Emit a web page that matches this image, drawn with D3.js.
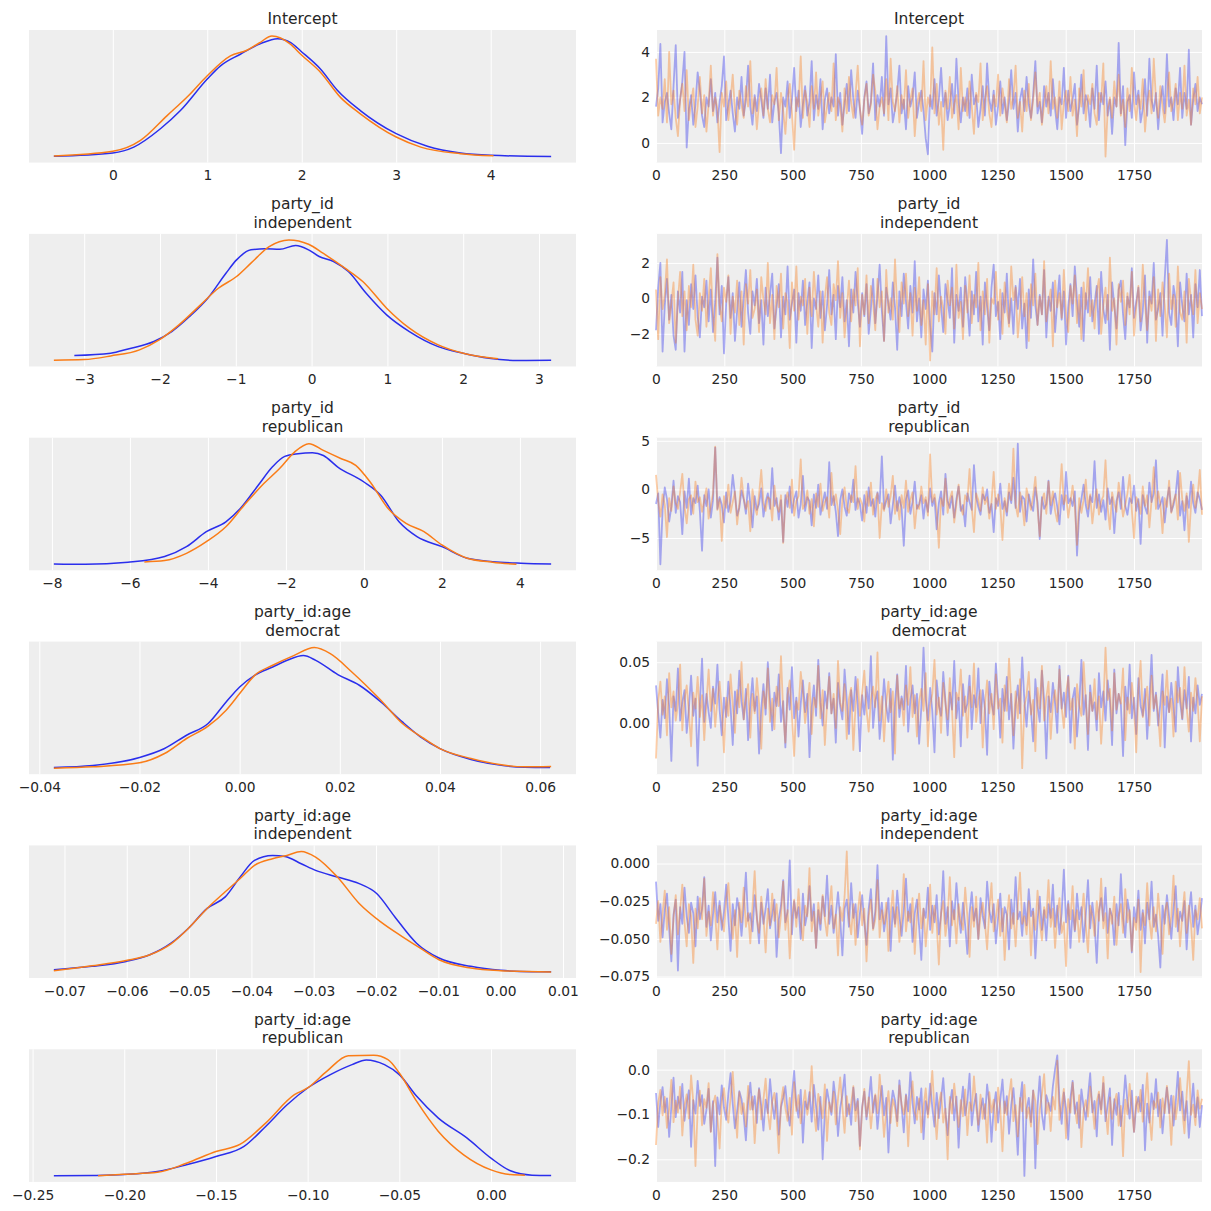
<!DOCTYPE html>
<html><head><meta charset="utf-8">
<script src="https://cdn.jsdelivr.net/npm/d3@7"></script>
<style>html,body{margin:0;padding:0;background:#fff}</style>
</head><body>
<svg id="c" width="1211" height="1211"></svg>
<script>
// ---------------- DATA ----------------
const titles = [["Intercept"],["party_id","independent"],["party_id","republican"],
  ["party_id:age","democrat"],["party_id:age","independent"],["party_id:age","republican"]];
const chainColors = ["#2a2eec","#fa7c17"];
const nDraws = 2000;

// KDE curves: [value, relative density] for chain 0 and chain 1
const kdeIntercept0 = [[-0.624,0.004],[0,0.032],[0.222,0.081],[0.504,0.234],[0.716,0.386],[1.0,0.649],[1.14,0.759],[1.35,0.856],[1.566,0.945],[1.743,0.986],[1.884,0.953],[1.989,0.883],[2.2,0.731],[2.374,0.558],[2.62,0.386],[3.0,0.193],[3.33,0.088],[3.68,0.032],[4.0,0.013],[4.64,0.002]];
const kdeIntercept1 = [[-0.624,0.007],[0,0.046],[0.293,0.137],[0.575,0.344],[0.8,0.51],[1.0,0.677],[1.245,0.842],[1.42,0.889],[1.55,0.95],[1.685,1.008],[1.88,0.94],[1.989,0.856],[2.2,0.704],[2.41,0.496],[2.62,0.359],[3.0,0.165],[3.26,0.081],[3.68,0.026],[4.03,0.008]];
const kdeIndep0 = [[-3.13,0.040],[-2.65,0.059],[-2.42,0.095],[-2.08,0.156],[-1.845,0.238],[-1.61,0.362],[-1.37,0.513],[-1.13,0.719],[-0.99,0.829],[-0.80,0.912],[-0.61,0.920],[-0.42,0.917],[-0.21,0.948],[-0.04,0.912],[0.10,0.857],[0.29,0.816],[0.485,0.733],[0.72,0.554],[0.99,0.376],[1.29,0.238],[1.67,0.114],[2.0,0.059],[2.34,0.018],[2.72,0.000],[3.16,0.002]];
const kdeIndep1 = [[-3.40,0.002],[-3.0,0.007],[-2.65,0.037],[-2.27,0.087],[-2.01,0.169],[-1.75,0.293],[-1.465,0.458],[-1.23,0.595],[-0.99,0.692],[-0.80,0.802],[-0.56,0.939],[-0.30,0.994],[-0.04,0.958],[0.15,0.884],[0.44,0.761],[0.675,0.651],[0.99,0.431],[1.29,0.266],[1.67,0.128],[2.0,0.059],[2.46,0.013]];
const kdeRepub0 = [[-7.95,0.007],[-7.14,0.004],[-6.05,0.021],[-5.11,0.068],[-4.55,0.150],[-4.04,0.274],[-3.54,0.356],[-3.17,0.466],[-2.71,0.659],[-2.35,0.810],[-2.03,0.898],[-1.69,0.920],[-1.32,0.928],[-1.04,0.906],[-0.67,0.810],[0,0.686],[0.43,0.576],[0.90,0.356],[1.36,0.233],[2.0,0.150],[2.65,0.054],[3.30,0.026],[4.03,0.013],[4.80,0.007]];
const kdeRepub1 = [[-5.63,0.024],[-5.11,0.035],[-4.55,0.095],[-4.04,0.191],[-3.54,0.315],[-3.07,0.494],[-2.61,0.659],[-2.15,0.802],[-1.78,0.934],[-1.41,1.003],[-1.04,0.948],[-0.58,0.879],[-0.21,0.824],[0.16,0.686],[0.62,0.466],[1.08,0.343],[1.54,0.274],[2.0,0.164],[2.65,0.054],[3.30,0.021],[3.91,0.004]];
const kdeAgeDem0 = [[-0.0371,0.013],[-0.0293,0.029],[-0.0200,0.095],[-0.0150,0.169],[-0.0106,0.279],[-0.0063,0.376],[-0.0027,0.554],[0,0.678],[0.0030,0.774],[0.0066,0.843],[0.0095,0.898],[0.0127,0.937],[0.0152,0.898],[0.0196,0.780],[0.0239,0.692],[0.0282,0.554],[0.0325,0.389],[0.0361,0.266],[0.0400,0.169],[0.0462,0.079],[0.0519,0.032],[0.0569,0.015],[0.0620,0.013]];
const kdeAgeDem1 = [[-0.0371,0.007],[-0.0293,0.018],[-0.0200,0.051],[-0.0150,0.128],[-0.0106,0.252],[-0.0063,0.354],[-0.0027,0.486],[0,0.623],[0.0030,0.774],[0.0066,0.857],[0.0109,0.939],[0.0149,1.003],[0.0181,0.953],[0.0224,0.802],[0.0282,0.568],[0.0325,0.376],[0.0368,0.252],[0.0400,0.169],[0.0462,0.087],[0.0519,0.037],[0.0569,0.018],[0.0622,0.021]];
const kdeAgeInd0 = [[-0.0717,0.026],[-0.0656,0.054],[-0.0601,0.095],[-0.0563,0.150],[-0.0529,0.246],[-0.0501,0.370],[-0.0471,0.535],[-0.0442,0.631],[-0.0418,0.796],[-0.0395,0.934],[-0.0366,0.975],[-0.0346,0.967],[-0.0320,0.906],[-0.0297,0.851],[-0.0262,0.796],[-0.0227,0.741],[-0.0199,0.659],[-0.0170,0.466],[-0.0135,0.246],[-0.0099,0.123],[-0.0048,0.054],[0,0.021],[0.0050,0.010],[0.0081,0.010]];
const kdeAgeInd1 = [[-0.0717,0.018],[-0.0656,0.059],[-0.0601,0.103],[-0.0563,0.150],[-0.0529,0.241],[-0.0501,0.370],[-0.0471,0.535],[-0.0442,0.673],[-0.0418,0.783],[-0.0395,0.893],[-0.0366,0.948],[-0.0343,0.975],[-0.0320,1.008],[-0.0297,0.961],[-0.0262,0.796],[-0.0227,0.576],[-0.0193,0.425],[-0.0158,0.301],[-0.0129,0.205],[-0.0099,0.109],[-0.0048,0.040],[0,0.018],[0.0081,0.007]];
const kdeAgeRep0 = [[-0.2384,0.002],[-0.2172,0.005],[-0.2000,0.013],[-0.1819,0.038],[-0.1661,0.094],[-0.1500,0.163],[-0.1347,0.246],[-0.1229,0.412],[-0.1112,0.592],[-0.1000,0.731],[-0.0876,0.842],[-0.0758,0.925],[-0.0680,0.964],[-0.0581,0.925],[-0.0500,0.842],[-0.0405,0.662],[-0.0287,0.481],[-0.0130,0.315],[0,0.149],[0.0106,0.044],[0.0224,0.008],[0.0328,0.005]];
const kdeAgeRep1 = [[-0.2143,0.002],[-0.2000,0.016],[-0.1819,0.032],[-0.1661,0.107],[-0.1500,0.204],[-0.1367,0.265],[-0.1229,0.440],[-0.1072,0.675],[-0.1000,0.731],[-0.0896,0.869],[-0.0778,0.999],[-0.0640,1.002],[-0.0562,0.966],[-0.0500,0.855],[-0.0405,0.620],[-0.0287,0.371],[-0.0149,0.177],[0,0.052],[0.0106,0.013],[0.0185,0.008]];

// Trace values (thinned draws, spread over 2000 draws), chain 0 and chain 1
const traceIntercept0 = [1.6,2.4,4.35,0.9,1.8,2.2,1.3,0.6,2.5,4.3, 1.1,1.9,2.7,4.0,-0.2,1.5,2.1,0.8,1.7,3.1, 2.3,1.2,0.7,2.0,1.6,2.8,1.4,2.2,0.9,1.8, 2.5,3.8,1.0,1.7,2.3,1.3,0.5,2.0,1.5,2.9, 1.2,1.9,3.4,1.6,0.8,2.1,1.4,2.6,1.9,1.1, 2.4,1.5,3.0,0.9,1.8,2.2,1.3,-0.45,2.0,1.6, 2.7,1.1,1.9,3.3,1.4,2.3,0.7,1.7,2.5,1.2, 1.8,3.6,1.0,2.1,1.5,2.8,0.6,1.9,2.4,1.3, 2.0,1.6,3.9,1.2,2.2,0.8,1.7,2.6,1.4,3.2, 1.9,1.1,2.3,1.5,0.4,2.0,2.7,1.3,1.8,3.5, 1.0,2.1,1.6,2.9,1.2,4.7,1.7,2.4,0.9,1.5, 2.2,3.4,1.3,1.9,0.6,2.5,1.6,2.0,3.1,1.1, 1.8,2.3,1.4,0.2,-0.5,2.1,1.5,2.8,1.2,1.9, 3.3,1.6,2.2,1.0,1.7,2.6,1.3,3.7,1.8,0.9, 2.0,1.4,2.4,1.1,3.0,1.7,2.1,0.7,1.5,2.5, 1.2,3.5,1.9,1.4,2.3,0.8,1.6,2.7,1.3,2.0, 1.0,1.8,3.2,1.5,2.2,0.5,1.9,2.4,1.4,2.9, 1.7,1.1,2.1,3.6,1.3,1.8,0.9,2.5,1.6,2.2, 1.2,2.8,1.5,0.6,2.0,1.7,3.3,1.1,2.3,1.4, 1.9,2.6,0.8,1.6,3.0,1.3,2.1,1.8,0.7,2.4, 1.5,3.4,1.0,2.2,1.7,2.7,1.2,1.9,0.4,2.0, 1.6,4.4,1.3,2.5,-0.1,1.8,2.1,1.1,3.1,1.7, 2.3,0.9,1.5,2.8,1.2,3.7,1.9,1.4,2.2,0.6, 1.8,2.5,1.3,3.9,1.6,2.0,1.0,2.4,1.7,3.3, 1.1,2.2,1.5,4.1,0.8,1.9,2.6,1.4,2.0,1.7];
const traceIntercept1 = [3.7,1.2,2.0,1.5,2.8,0.9,4.0,1.7,2.3,1.1, 0.3,1.9,2.6,1.4,3.2,1.0,1.8,2.4,0.7,1.6, 2.9,1.3,2.1,0.5,1.7,3.4,1.2,2.0,1.5,-0.4, 2.2,1.6,2.7,1.0,1.9,3.0,1.4,0.8,2.3,1.7, 1.1,2.5,1.6,3.6,1.3,2.0,0.6,1.8,2.4,1.2, 2.8,1.5,0.9,2.1,1.7,3.3,1.0,2.2,1.4,0.4, 1.9,2.6,1.3,-0.3,2.0,1.6,3.8,1.1,2.3,1.8, 0.7,2.5,1.5,3.1,1.2,1.9,2.7,0.9,1.6,2.2, 1.4,3.5,1.0,2.0,1.7,0.5,2.4,1.3,2.9,1.8, 1.1,2.1,3.4,1.5,0.8,1.9,2.6,1.2,1.7,3.0, 2.3,0.6,1.6,2.0,1.3,2.8,1.0,3.7,1.8,1.4, 2.5,0.9,2.1,1.5,3.2,1.1,1.9,2.4,0.3,1.7, 2.2,1.4,3.6,1.0,2.0,1.6,4.2,1.3,2.6,0.8, 1.8,-0.3,2.3,1.5,2.9,1.1,1.7,2.1,0.6,3.3, 1.4,2.0,1.2,2.7,1.6,0.4,2.2,1.8,3.5,1.0, 1.9,2.5,1.3,0.7,2.1,1.6,3.0,1.2,2.4,1.7, 0.9,2.8,1.5,2.0,3.4,1.1,1.8,0.5,2.3,1.4, 2.6,1.0,1.9,3.1,1.6,2.2,0.8,1.7,2.5,1.3, 3.6,1.5,2.0,1.1,2.7,0.6,1.8,2.3,1.4,2.9, 1.2,1.9,0.3,2.4,1.6,3.2,1.0,2.1,1.7,2.6, 1.3,0.8,2.2,1.8,3.5,-0.6,1.5,2.0,1.1,2.7, 1.6,3.0,1.2,1.9,0.7,2.4,1.4,3.3,1.8,1.0, 2.1,1.5,2.8,0.5,1.7,2.3,1.3,3.7,1.9,1.1, 2.5,1.6,0.9,2.0,3.1,1.4,1.8,2.6,1.0,2.2, 1.5,3.4,1.2,1.9,0.8,2.4,1.7,2.9,1.3,2.0];
const traceIndep0 = [-1.8,0.6,2.0,-3.0,-0.4,1.1,-1.2,0.2,-2.1,-2.9, 0.4,-0.8,1.5,-3.0,-0.1,-1.5,0.8,-0.6,1.3,-1.0, -2.2,0.1,-0.5,1.0,-1.3,0.5,-1.9,-0.2,2.3,-0.9, 0.7,-3.1,-0.3,1.2,-1.1,0.3,-2.4,-0.7,0.9,-1.6, 0.0,1.6,-0.8,-2.0,0.4,-0.4,1.1,-1.4,-0.1,-2.6, 0.6,-1.0,0.2,1.4,-1.7,-0.5,0.8,-2.2,0.1,-0.9, 1.8,-1.2,-0.3,0.5,-2.5,0.3,-0.7,1.0,-1.5,-0.2, 0.9,-2.8,0.0,-0.6,1.3,-1.1,0.4,-1.8,-0.4,1.6, -0.9,0.2,-2.3,0.7,-0.5,1.2,-1.3,-0.1,-2.7,0.5, -0.8,1.5,-0.2,-1.6,0.3,-1.0,0.8,-2.0,-0.6,1.1, -1.4,0.1,1.9,-0.7,-2.4,0.6,-0.3,-1.2,0.9,-0.5, -2.9,0.4,-1.0,1.4,-0.2,-1.7,0.7,-0.8,2.1,-1.3, 0.0,-2.2,0.5,-0.6,1.0,-1.5,-3.0,0.3,-0.9,1.3, -0.4,-1.9,0.8,-0.1,-1.1,1.7,-2.5,0.2,-0.7,0.6, -1.6,1.2,-0.3,-2.1,0.4,-0.9,1.5,-1.3,0.1,-2.6, 0.9,-0.5,-1.8,0.6,1.9,-1.0,-0.2,-2.3,0.3,-0.8, 1.4,-1.4,0.0,-2.0,0.7,-0.6,1.1,-1.7,-0.3,-2.8, 0.5,-1.1,2.2,-0.4,-1.5,0.2,-0.9,1.6,-2.2,0.1, -0.7,0.9,-1.9,-0.2,1.3,-1.2,0.4,-2.6,-0.5,0.8, -1.0,1.8,-0.1,-1.6,0.6,-2.4,0.3,-0.8,1.2,-1.3, -0.3,0.7,-2.0,1.5,-0.6,-1.4,0.2,-2.9,0.9,-0.4, -1.7,0.5,1.0,-0.9,-2.3,0.1,-0.5,1.7,-1.1,-0.2, 0.6,-1.8,-0.7,1.3,-2.5,0.4,-0.3,2.0,-1.2,-0.6, 0.3,-2.1,1.1,3.3,-0.8,-1.5,0.7,-0.1,-2.7,0.9, -0.4,-1.3,1.4,-0.9,0.2,-2.2,0.8,-0.5,1.6,-1.0];
const traceIndep1 = [0.5,-2.3,1.2,-0.6,0.2,2.2,-1.4,-0.3,0.9,-2.5, -0.1,1.5,-1.0,0.4,-1.8,0.7,-0.5,1.9,-1.2,-2.1, 0.3,-0.7,1.1,-1.6,0.0,1.7,-0.9,-2.4,2.5,-0.4, -1.3,0.6,-0.2,1.3,-2.0,0.1,-0.8,1.0,-1.5,0.4, -2.6,0.8,-0.3,1.6,-1.1,-0.6,0.5,-1.9,1.2,-0.1, -0.9,2.0,-1.4,0.2,-2.3,0.7,-0.5,1.4,-1.7,0.3, -0.2,-2.8,0.9,-0.7,1.8,-1.2,0.1,-0.4,1.1,-2.0, 0.6,-1.0,1.5,-0.3,-1.6,0.4,-2.5,0.0,1.2,-0.8, -1.5,0.8,-0.1,2.1,-1.1,0.3,-2.2,-0.6,1.0,-1.3, 0.5,-0.4,1.7,-2.7,0.2,-0.9,1.3,-1.4,0.7,-0.2, -1.8,1.1,-0.5,0.4,-2.4,1.6,-0.8,0.0,-1.2,2.2, -0.6,-1.9,0.9,-0.3,1.4,-1.0,0.3,-2.1,0.6,-0.7, 1.2,-1.5,-0.1,-2.6,0.8,-3.5,0.4,-0.9,1.7,-1.3, 0.1,-0.6,-2.0,1.0,-0.4,0.6,-1.7,1.9,-1.1,-0.2, -2.3,0.7,-0.8,1.3,-1.4,0.2,-0.5,2.0,-1.8,0.4, -0.9,1.1,-2.5,0.0,-0.3,1.5,-1.2,0.5,-2.0,0.9, -0.6,-1.6,1.8,-0.1,0.6,-2.2,-0.7,1.2,-1.0,0.3, -2.4,0.8,-0.4,1.4,-1.5,0.1,-0.9,2.1,-1.3,-0.2, 0.5,-2.7,1.0,-0.5,0.3,-1.1,1.6,-0.8,-1.9,0.7, -0.3,1.3,-1.4,0.2,-2.3,0.9,-0.6,1.7,-1.0,-0.1, -1.7,0.4,1.1,-2.0,-0.4,0.6,-1.2,2.3,-0.7,0.0, -2.6,0.8,-0.2,1.0,-1.5,0.3,-0.9,1.5,-2.1,-0.5, 0.7,-1.3,1.9,-0.3,-1.8,0.1,-0.7,1.2,-2.4,0.5, -1.0,0.9,-0.4,-2.2,1.4,-0.6,0.2,-1.6,1.8,-0.8, -1.2,0.4,-2.5,1.1,-0.1,-0.9,1.6,-1.4,0.3,-0.6];
const traceRepub0 = [-1.5,-0.4,-7.7,-2.1,0.2,-1.0,-3.3,-1.8,0.9,-2.4, -0.7,-1.3,-4.6,-0.2,-1.9,1.1,-2.6,-0.9,-1.4,0.4, -2.2,-6.3,-0.6,-1.7,0.0,-2.9,-1.1,4.3,-2.0,-0.8, -1.6,-3.4,-0.3,-2.3,-1.2,1.5,-0.5,-2.7,-1.9,-0.1, -1.0,-2.5,0.6,-1.4,-3.9,-0.7,-2.1,-1.5,0.1,-2.8, -1.3,-0.4,-2.0,2.2,-1.7,-0.9,-3.1,-1.1,-5.4,-0.6, -1.8,0.3,-2.4,-1.0,-0.2,-2.9,-1.5,1.4,-2.2,-0.8, -1.2,-3.7,-0.5,-1.9,0.5,-2.6,-1.4,-0.3,-2.0,2.8, -1.6,-0.7,-2.3,-4.8,-1.1,0.0,-1.8,-2.7,-0.4,-1.3, 1.0,-2.1,-0.9,-1.5,-3.2,-0.6,-2.4,0.2,-1.7,-1.0, -2.8,-0.3,-1.4,3.4,-2.0,-1.2,-0.5,-3.5,-1.6,0.4, -2.2,-0.8,-1.9,-5.8,-1.0,-0.1,-2.5,-1.3,0.8,-2.0, -1.5,-0.6,-3.0,-1.1,-2.3,0.1,-1.7,-0.9,-4.1,-1.4, -0.2,-2.6,1.6,-1.2,-1.9,-0.7,-2.9,-1.0,0.3,-2.2, -1.6,-3.8,-0.4,-1.3,-2.1,2.5,-0.8,-1.8,-2.6,-0.5, -1.1,0.0,-2.4,-1.5,-4.4,-0.9,-1.7,0.6,-2.0,-1.2, -2.7,-0.3,-1.4,1.2,-1.9,4.7,-2.3,-0.7,-1.0,-3.3, -0.5,-1.6,-2.2,0.2,-1.3,-5.1,-0.8,-2.0,-1.5,0.9, -2.5,-1.1,-0.4,-1.8,-3.6,-0.6,-2.1,1.8,-1.4,-0.9, -1.7,-0.2,-6.8,-2.4,-1.0,0.5,-1.6,-2.8,-0.7,-1.3, 2.9,-1.9,-0.5,-2.3,-1.1,-3.1,0.1,-1.5,-0.8,-4.5, -1.2,-0.3,-2.0,1.3,-1.7,-2.6,-0.9,-1.4,0.4,-2.2, -1.0,-5.6,-0.6,-1.8,-2.5,0.7,-1.3,-0.4,3.0,-2.0, -1.5,-0.8,-3.4,-1.1,0.2,-2.3,-1.6,-0.5,1.9,-2.7, -1.2,-4.2,-0.7,-1.9,0.8,-1.4,-2.4,-0.3,-1.0,-2.1];
const traceRepub1 = [1.5,-1.2,-2.8,-0.5,-1.6,-4.9,-0.9,-2.2,0.3,-1.4, -2.0,-0.3,1.6,-1.8,-3.5,-1.0,-0.6,-2.5,0.8,-1.3, -0.8,-2.3,-1.1,0.1,-3.0,-1.7,-0.4,4.4,-2.1,-1.0, -5.3,-0.7,-1.9,0.5,-2.4,-1.3,-0.2,-3.6,-1.5,1.2, -0.9,-2.0,-1.2,-4.3,0.0,-1.7,-2.6,-0.5,2.0,-1.4, -2.2,-0.8,-1.0,-3.2,0.4,-1.6,-2.3,-0.6,-5.5,-1.1, -0.3,-1.9,1.0,-2.7,-1.2,-0.7,3.1,-2.0,-1.5,-0.1, -2.5,-1.0,-3.8,-0.4,-1.8,0.6,-2.2,-1.3,-0.8,-2.9, 1.7,-1.6,-0.5,-2.1,-4.6,-1.1,0.2,-1.9,-2.4,-0.6, -1.3,2.4,-2.0,-0.9,-1.5,-3.3,-0.2,-1.7,0.7,-2.6, -1.0,-0.4,-5.0,-1.4,-2.2,0.0,-1.8,-0.7,1.4,-2.5, -1.2,-3.1,-0.6,-1.9,0.9,-2.3,-1.1,-0.3,-4.0,-1.6, -2.0,0.3,-1.4,-0.8,-2.7,3.6,-1.3,-0.5,-2.1,-6.0, -0.9,-1.7,1.1,-2.4,-1.0,-0.2,-3.4,-1.5,0.5,-1.9, -2.6,-0.6,-1.2,2.1,-1.8,-4.4,-0.4,-1.1,-2.2,0.2, -1.5,-0.8,-3.0,-1.3,1.8,-2.0,-0.5,-1.7,-5.2,-0.9, -2.3,0.6,-1.1,4.2,-1.6,-2.8,-0.3,-1.4,-3.7,0.1, -1.0,-2.1,-0.7,1.3,-1.9,-4.8,-1.2,-0.4,-2.5,0.8, -1.6,-0.2,-2.2,-3.3,-1.0,2.6,-1.5,-0.6,-2.9,-1.3, 0.4,-1.8,-5.7,-0.9,-2.4,-1.1,1.0,-2.0,-0.5,-3.5, -1.4,0.0,-2.6,-1.2,-0.7,3.0,-1.9,-4.1,-0.3,-1.5, -2.3,0.7,-1.0,-2.8,-1.6,-0.4,1.5,-2.1,-5.0,-0.8, -1.3,-2.5,0.3,-1.7,-0.6,-3.9,-1.1,2.3,-2.0,-0.2, -1.5,-4.5,-0.9,-1.8,0.9,-2.4,-1.2,-0.5,-3.1,1.7, -1.0,-2.2,-0.4,-5.4,-1.6,0.5,-1.9,-0.7,2.0,-2.6];
const traceAgeDem0 = [0.031,0.008,-0.012,0.019,0.004,0.036,0.014,-0.031,0.022,0.010, 0.045,0.002,0.017,0.027,-0.008,0.012,0.039,0.006,0.020,-0.035, 0.015,0.053,0.001,0.024,0.009,-0.004,0.030,0.016,0.048,0.011, -0.010,0.021,0.005,0.034,0.013,-0.018,0.026,0.008,0.043,0.018, 0.003,0.028,-0.014,0.015,0.037,0.010,0.022,-0.025,0.012,0.032, 0.007,0.050,0.019,-0.006,0.025,0.014,0.040,0.001,0.018,-0.020, 0.029,0.011,0.046,0.004,0.021,-0.011,0.016,0.035,0.009,0.024, -0.028,0.013,0.031,0.006,0.052,0.017,-0.002,0.026,0.012,0.041, 0.008,0.020,-0.016,0.033,0.014,0.003,0.044,0.019,-0.009,0.027, 0.010,0.038,0.015,-0.023,0.023,0.007,0.030,0.012,0.055,-0.004, 0.018,0.026,-0.013,0.009,0.036,0.014,0.001,0.028,-0.030,0.016, 0.040,0.005,0.022,0.011,0.047,-0.007,0.019,0.031,0.008,0.024, -0.017,0.013,0.062,0.020,0.002,0.029,0.010,-0.024,0.035,0.015, 0.006,0.042,0.018,-0.010,0.025,0.011,0.051,0.004,0.021,-0.019, 0.032,0.009,0.016,0.039,-0.005,0.023,0.013,0.045,0.000,0.027, 0.012,-0.026,0.034,0.017,0.007,0.049,0.020,-0.012,0.028,0.010, 0.038,0.003,0.024,-0.021,0.015,0.031,0.008,0.054,0.018,-0.003, 0.026,0.011,-0.015,0.036,0.014,0.001,0.043,0.019,-0.029,0.022, 0.009,0.033,0.016,-0.008,0.047,0.012,0.025,0.005,0.039,-0.016, 0.020,0.029,-0.011,0.014,0.052,0.007,0.023,-0.022,0.031,0.010, 0.017,-0.006,0.041,0.013,0.026,0.002,0.035,0.018,-0.018,0.044, 0.008,0.024,0.015,-0.027,0.030,0.011,0.048,0.004,0.021,-0.009, 0.037,0.014,0.006,0.028,-0.013,0.019,0.056,0.010,0.025,-0.002, 0.016,0.040,-0.020,0.022,0.009,0.033,0.013,-0.007,0.046,0.018, 0.003,0.027,0.012,0.038,-0.015,0.021,0.008,0.031,0.015,0.024];
const traceAgeDem1 = [-0.029,0.018,0.034,0.007,0.022,-0.010,0.041,0.013,0.026,0.002, 0.016,0.048,-0.006,0.020,0.031,0.009,-0.019,0.025,0.012,0.038, 0.005,0.023,-0.014,0.017,0.044,0.010,0.028,-0.003,0.019,0.034, 0.011,-0.024,0.021,0.006,0.040,0.015,-0.008,0.027,0.013,0.050, 0.003,0.019,0.032,-0.012,0.024,0.008,0.037,0.016,-0.021,0.026, 0.012,0.045,0.001,0.020,-0.005,0.030,0.014,0.055,0.009,-0.016, 0.023,0.035,0.006,-0.027,0.018,0.011,0.042,0.025,0.000,0.015, 0.033,-0.009,0.021,0.013,0.047,0.004,0.027,-0.018,0.016,0.038, 0.008,0.024,-0.004,0.051,0.017,0.010,0.032,-0.013,0.020,0.029, -0.022,0.014,0.036,0.006,0.025,0.043,0.011,-0.007,0.019,0.030, 0.013,0.058,0.002,0.022,-0.015,0.017,0.034,0.009,0.026,-0.025, 0.039,0.012,0.020,-0.002,0.031,0.015,0.046,0.005,0.023,-0.011, 0.018,0.028,0.010,0.041,-0.019,0.014,0.024,0.052,0.007,0.021, -0.008,0.033,0.016,0.003,0.037,0.011,-0.028,0.025,0.019,0.044, 0.006,0.022,-0.012,0.030,0.013,0.049,0.001,0.018,0.027,-0.020, 0.015,0.035,0.008,0.024,-0.005,0.040,0.012,0.020,-0.016,0.031, 0.010,0.053,0.017,-0.010,0.026,0.004,0.036,-0.037,0.014,0.023, 0.042,0.007,0.019,-0.023,0.029,0.012,0.047,0.002,0.021,0.034, -0.013,0.016,0.027,0.009,0.044,0.013,-0.004,0.024,0.038,0.011, 0.020,-0.021,0.032,0.015,0.006,0.050,0.018,-0.009,0.025,0.010, 0.036,0.003,0.022,-0.017,0.013,0.062,0.019,0.028,-0.006,0.041, 0.011,0.024,0.016,0.045,-0.014,0.021,0.008,0.033,0.014,-0.024, 0.027,0.051,0.005,0.018,0.030,-0.002,0.039,0.012,0.023,0.007, -0.019,0.026,0.015,0.043,0.009,0.020,-0.011,0.034,0.017,0.029, 0.004,0.046,0.013,-0.007,0.025,0.010,0.037,0.018,-0.015,0.022];
const traceAgeInd0 = [-0.012,-0.038,-0.027,-0.049,-0.031,-0.020,-0.043,-0.065,-0.034,-0.024, -0.071,-0.029,-0.040,-0.016,-0.035,-0.046,-0.026,-0.033,-0.055,-0.022, -0.037,-0.030,-0.009,-0.042,-0.028,-0.051,-0.034,-0.019,-0.039,-0.025, -0.044,-0.032,-0.014,-0.036,-0.058,-0.027,-0.041,-0.023,-0.031,-0.048, -0.029,-0.006,-0.038,-0.033,-0.045,-0.021,-0.035,-0.053,-0.026,-0.040, -0.030,-0.017,-0.043,-0.034,-0.024,-0.062,-0.037,-0.028,-0.011,-0.039, -0.032,0.002,-0.047,-0.025,-0.036,-0.029,-0.050,-0.020,-0.041,-0.033, -0.015,-0.038,-0.027,-0.056,-0.031,-0.044,-0.022,-0.035,-0.008,-0.040, -0.028,-0.046,-0.034,-0.019,-0.037,-0.061,-0.030,-0.024,-0.042,-0.013, -0.036,-0.027,-0.049,-0.033,-0.021,-0.039,-0.054,-0.030,-0.017,-0.043, -0.032,-0.001,-0.037,-0.026,-0.045,-0.034,-0.023,-0.058,-0.029,-0.040, -0.018,-0.035,-0.048,-0.031,-0.010,-0.038,-0.027,-0.052,-0.033,-0.024, -0.042,-0.064,-0.030,-0.036,-0.016,-0.044,-0.028,-0.039,-0.021,-0.047, -0.034,-0.005,-0.040,-0.029,-0.055,-0.025,-0.037,-0.013,-0.032,-0.046, -0.026,-0.041,-0.060,-0.033,-0.019,-0.038,-0.030,-0.050,-0.023,-0.035, -0.043,-0.012,-0.031,-0.039,-0.027,-0.053,-0.036,-0.020,-0.045,-0.029, -0.034,-0.057,-0.024,-0.040,-0.009,-0.037,-0.032,-0.048,-0.026,-0.041, -0.017,-0.035,-0.030,-0.063,-0.038,-0.022,-0.044,-0.031,-0.051,-0.027, -0.036,-0.014,-0.042,-0.028,-0.047,-0.033,-0.004,-0.039,-0.025,-0.056, -0.031,-0.045,-0.020,-0.037,-0.029,-0.052,-0.034,-0.011,-0.043,-0.026, -0.040,-0.066,-0.032,-0.023,-0.038,-0.016,-0.046,-0.030,-0.035,-0.054, -0.027,-0.041,-0.007,-0.036,-0.049,-0.024,-0.033,-0.059,-0.029,-0.039, -0.018,-0.044,-0.031,-0.053,-0.026,-0.037,-0.012,-0.042,-0.034,-0.048, -0.069,-0.028,-0.040,-0.021,-0.035,-0.050,-0.030,-0.015,-0.045,-0.032, -0.038,-0.025,-0.057,-0.033,-0.019,-0.042,-0.028,-0.047,-0.036,-0.023];
const traceAgeInd1 = [-0.040,-0.025,-0.052,-0.033,-0.018,-0.044,-0.029,-0.060,-0.036,-0.021, -0.047,-0.031,-0.014,-0.039,-0.055,-0.027,-0.035,-0.066,-0.030,-0.043, -0.023,-0.037,-0.010,-0.048,-0.032,-0.041,-0.019,-0.034,-0.057,-0.028, -0.038,-0.045,-0.024,-0.013,-0.036,-0.050,-0.031,-0.062,-0.026,-0.039, -0.016,-0.042,-0.033,-0.053,-0.029,-0.005,-0.037,-0.046,-0.022,-0.035, -0.059,-0.030,-0.041,-0.020,-0.038,-0.027,-0.049,-0.034,-0.012,-0.044, -0.031,-0.063,-0.036,-0.024,-0.042,-0.017,-0.039,-0.051,-0.028,-0.035, -0.003,-0.045,-0.032,-0.056,-0.026,-0.040,-0.021,-0.037,-0.048,-0.030, -0.015,-0.043,-0.034,-0.061,-0.029,-0.038,-0.022,0.008,-0.036,-0.047, -0.027,-0.054,-0.033,-0.019,-0.041,-0.030,-0.065,-0.035,-0.024,-0.044, -0.037,-0.011,-0.049,-0.031,-0.040,-0.026,-0.058,-0.034,-0.018,-0.042, -0.029,-0.052,-0.036,-0.007,-0.045,-0.032,-0.039,-0.023,-0.060,-0.034, -0.020,-0.043,-0.030,-0.055,-0.037,-0.014,-0.046,-0.028,-0.040,-0.067, -0.033,-0.025,-0.048,-0.036,-0.009,-0.041,-0.031,-0.053,-0.027,-0.038, -0.044,-0.016,-0.035,-0.062,-0.029,-0.042,-0.022,-0.050,-0.034,-0.026, -0.039,-0.057,-0.031,-0.013,-0.045,-0.036,-0.024,-0.048,-0.030,-0.064, -0.037,-0.021,-0.043,-0.033,-0.055,-0.028,-0.006,-0.040,-0.035,-0.047, -0.025,-0.061,-0.032,-0.044,-0.018,-0.038,-0.051,-0.029,-0.036,-0.011, -0.042,-0.030,-0.056,-0.034,-0.023,-0.046,-0.039,-0.068,-0.027,-0.037, -0.015,-0.044,-0.031,-0.052,-0.036,-0.020,-0.041,-0.059,-0.028,-0.035, -0.048,-0.025,-0.038,-0.010,-0.043,-0.033,-0.063,-0.030,-0.040,-0.022, -0.054,-0.035,-0.027,-0.046,-0.017,-0.039,-0.031,-0.058,-0.036,-0.044, -0.024,-0.072,-0.033,-0.041,-0.013,-0.037,-0.050,-0.029,-0.045,-0.020, -0.038,-0.060,-0.032,-0.026,-0.047,-0.035,-0.008,-0.042,-0.030,-0.055, -0.034,-0.019,-0.046,-0.028,-0.040,-0.064,-0.031,-0.037,-0.023,-0.043];
const traceAgeRep0 = [-0.052,-0.128,-0.071,-0.039,-0.095,-0.064,-0.150,-0.083,-0.018,-0.106, -0.060,-0.087,-0.032,-0.114,-0.075,-0.046,-0.172,-0.068,-0.098,-0.025, -0.081,-0.057,-0.121,-0.090,-0.043,-0.138,-0.070,-0.215,-0.062,-0.100, -0.035,-0.085,-0.112,-0.054,-0.008,-0.077,-0.131,-0.093,-0.048,-0.066, -0.103,-0.158,-0.073,-0.029,-0.089,-0.059,-0.119,-0.041,-0.080,-0.136, -0.067,-0.097,-0.021,-0.076,-0.110,-0.053,-0.145,-0.084,-0.063,-0.037, -0.092,-0.125,-0.058,-0.003,-0.079,-0.107,-0.045,-0.163,-0.071,-0.088, -0.050,-0.116,-0.034,-0.082,-0.134,-0.061,-0.200,-0.094,-0.044,-0.073, -0.101,-0.027,-0.068,-0.148,-0.086,-0.056,-0.011,-0.104,-0.077,-0.123, -0.040,-0.091,-0.065,-0.170,-0.083,-0.049,-0.111,-0.072,-0.016,-0.096, -0.058,-0.132,-0.078,-0.036,-0.102,-0.063,-0.185,-0.087,-0.047,-0.069, -0.115,-0.024,-0.081,-0.140,-0.055,-0.093,-0.006,-0.074,-0.120,-0.061, -0.089,-0.042,-0.155,-0.070,-0.099,-0.031,-0.084,-0.127,-0.052,-0.108, -0.066,-0.019,-0.094,-0.146,-0.077,-0.045,-0.113,-0.060,-0.174,-0.086, -0.038,-0.102,-0.071,-0.009,-0.124,-0.080,-0.054,-0.137,-0.091,-0.064, -0.110,-0.033,-0.076,-0.161,-0.085,-0.050,-0.118,-0.068,-0.022,-0.097, -0.059,-0.143,-0.079,-0.041,-0.105,-0.190,-0.072,-0.028,-0.237,-0.088, -0.063,-0.117,-0.046,-0.220,-0.082,-0.015,-0.100,-0.134,-0.057,-0.075, -0.092,-0.037,0.001,0.032,-0.069,-0.121,-0.051,-0.087,-0.156,-0.064, -0.025,-0.098,-0.073,-0.130,-0.044,-0.083,-0.112,-0.060,-0.008,-0.095, -0.070,-0.149,-0.055,-0.089,-0.030,-0.115,-0.078,-0.042,-0.168,-0.066, -0.101,-0.052,-0.126,-0.084,-0.013,-0.072,-0.109,-0.047,-0.139,-0.080, -0.061,-0.093,-0.034,-0.180,-0.076,-0.118,-0.053,-0.088,-0.021,-0.104, -0.067,-0.142,-0.082,-0.040,-0.097,-0.058,-0.125,-0.074,-0.005,-0.091, -0.049,-0.113,-0.070,-0.152,-0.086,-0.031,-0.106,-0.062,-0.128,-0.079];
const traceAgeRep1 = [-0.168,-0.074,-0.045,-0.102,-0.061,-0.130,-0.088,-0.023,-0.117,-0.069, -0.096,-0.038,-0.147,-0.080,-0.055,-0.109,-0.013,-0.072,-0.215,-0.090, -0.047,-0.124,-0.066,-0.085,-0.030,-0.139,-0.078,-0.058,-0.106,-0.176, -0.070,-0.041,-0.093,-0.118,-0.062,-0.005,-0.084,-0.152,-0.050,-0.099, -0.075,-0.127,-0.036,-0.089,-0.060,-0.164,-0.081,-0.044,-0.111,-0.067, -0.020,-0.095,-0.133,-0.071,-0.052,-0.103,-0.186,-0.077,-0.039,-0.086, -0.114,-0.063,-0.145,-0.028,-0.092,-0.057,-0.120,-0.082,-0.046,-0.101, -0.068,0.008,-0.087,-0.137,-0.054,-0.079,-0.108,-0.033,-0.159,-0.073, -0.094,-0.049,-0.122,-0.065,-0.017,-0.083,-0.141,-0.059,-0.100,-0.076, -0.037,-0.115,-0.070,-0.178,-0.088,-0.043,-0.105,-0.062,-0.131,-0.080, -0.055,-0.097,-0.011,-0.074,-0.150,-0.091,-0.048,-0.119,-0.066,-0.085, -0.126,-0.035,-0.078,-0.100,-0.058,-0.171,-0.072,-0.026,-0.094,-0.112, -0.064,-0.140,-0.083,-0.042,-0.107,-0.069,-0.003,-0.090,-0.155,-0.076, -0.051,-0.118,-0.087,-0.200,-0.061,-0.098,-0.031,-0.081,-0.128,-0.068, -0.104,-0.044,-0.146,-0.073,-0.092,-0.015,-0.082,-0.123,-0.056,-0.110, -0.077,-0.163,-0.050,-0.095,-0.067,-0.135,-0.040,-0.086,-0.182,-0.071, -0.101,-0.059,-0.021,-0.115,-0.079,-0.149,-0.063,-0.093,-0.034,-0.108, -0.084,-0.127,-0.047,-0.070,-0.166,-0.090,-0.055,-0.010,-0.098,-0.074, -0.137,-0.061,-0.089,0.020,-0.112,-0.078,-0.043,-0.153,-0.066,-0.096, -0.029,-0.083,-0.120,-0.057,-0.173,-0.091,-0.068,-0.105,-0.038,-0.080, -0.132,-0.072,-0.049,-0.099,-0.016,-0.087,-0.144,-0.062,-0.110,-0.075, -0.054,-0.125,-0.081,-0.193,-0.067,-0.100,-0.032,-0.088,-0.139,-0.060, -0.094,-0.045,-0.116,-0.076,-0.008,-0.103,-0.157,-0.070,-0.085,-0.051, -0.129,-0.064,-0.097,-0.036,-0.082,-0.168,-0.059,-0.111,-0.073,-0.019, -0.090,-0.142,-0.055,0.019,-0.101,-0.078,-0.124,-0.046,-0.087,-0.065];

// Tick labels
const kdeXTicks = [[0,1,2,3,4],[-3,-2,-1,0,1,2,3],[-8,-6,-4,-2,0,2,4],
  [-0.04,-0.02,0,0.02,0.04,0.06],[-0.07,-0.06,-0.05,-0.04,-0.03,-0.02,-0.01,0,0.01],
  [-0.25,-0.2,-0.15,-0.1,-0.05,0]];
const kdeXFormats = ["d","d","d",".2f",".2f",".2f"];
const traceXTicks = [0,250,500,750,1000,1250,1500,1750];
const traceYTicks = [[0,2,4],[-2,0,2],[-5,0,5],[0,0.05],[-0.075,-0.05,-0.025,0],[-0.2,-0.1,0]];
const traceYFormats = ["d","d","d",".2f",".3f",".1f"];

const kdes = [[kdeIntercept0,kdeIntercept1],[kdeIndep0,kdeIndep1],[kdeRepub0,kdeRepub1],
  [kdeAgeDem0,kdeAgeDem1],[kdeAgeInd0,kdeAgeInd1],[kdeAgeRep0,kdeAgeRep1]];
const traces = [[traceIntercept0,traceIntercept1],[traceIndep0,traceIndep1],[traceRepub0,traceRepub1],
  [traceAgeDem0,traceAgeDem1],[traceAgeInd0,traceAgeInd1],[traceAgeRep0,traceAgeRep1]];

// ---------------- DRAW ----------------
const svg = d3.select("#c");
svg.append("rect").attr("width",1211).attr("height",1211).attr("fill","#ffffff");
const FONT = "DejaVu Sans, sans-serif";
const TXT = "#262626";
const BG = "#eeeeee";
const Lx = [29, 576], Rx = [656, 1202];
const top0 = 30, pitch = 203.86, ph = 132.6;
const pad5 = e => { const d = e[1]-e[0]; return [e[0]-0.05*d, e[1]+0.05*d]; };

function styleAxis(g){
  g.select(".domain").remove();
  g.attr("font-size", null).attr("font-family", null);
  g.selectAll("text").attr("font-family",FONT).style("font-size","13.8px").attr("fill",TXT);
}
function styleGrid(g){
  g.select(".domain").remove();
  g.selectAll("line").attr("stroke","#ffffff").attr("stroke-width",1);
}

titles.forEach((lines, r) => {
  const y0 = top0 + r*pitch, y1 = y0 + ph;

  // ---- left: KDE ----
  const kd = kdes[r];
  const xs = d3.scaleLinear().domain(pad5(d3.extent(kd.flat(), d => d[0]))).range(Lx);
  const ys = d3.scaleLinear().domain(pad5(d3.extent(kd.flat(), d => d[1]))).range([y1, y0]);
  const gl = svg.append("g");
  gl.append("rect").attr("x",Lx[0]).attr("y",y0).attr("width",Lx[1]-Lx[0]).attr("height",ph).attr("fill",BG);
  gl.append("g").attr("transform",`translate(0,${y1})`)
    .call(d3.axisBottom(xs).tickValues(kdeXTicks[r]).tickSize(-ph).tickFormat(""))
    .call(styleGrid);
  gl.append("g").attr("transform",`translate(0,${y1})`)
    .call(d3.axisBottom(xs).tickValues(kdeXTicks[r]).tickFormat(d3.format(kdeXFormats[r])).tickSize(0).tickPadding(8))
    .call(styleAxis);
  const line = d3.line().x(d => xs(d[0])).y(d => ys(d[1])).curve(d3.curveMonotoneX);
  kd.forEach((c, ci) => {
    gl.append("path").attr("d", line(c)).attr("fill","none")
      .attr("stroke", chainColors[ci]).attr("stroke-width",1.5);
  });

  // ---- right: trace ----
  const tr = traces[r];
  const txs = d3.scaleLinear().domain([0, nDraws-1]).range(Rx);
  const tys = d3.scaleLinear().domain(pad5(d3.extent(tr.flat()))).range([y1, y0]);
  const gr = svg.append("g");
  gr.append("rect").attr("x",Rx[0]).attr("y",y0).attr("width",Rx[1]-Rx[0]).attr("height",ph).attr("fill",BG);
  gr.append("g").attr("transform",`translate(0,${y1})`)
    .call(d3.axisBottom(txs).tickValues(traceXTicks).tickSize(-ph).tickFormat(""))
    .call(styleGrid);
  gr.append("g").attr("transform",`translate(${Rx[0]},0)`)
    .call(d3.axisLeft(tys).tickValues(traceYTicks[r]).tickSize(-(Rx[1]-Rx[0])).tickFormat(""))
    .call(styleGrid);
  gr.append("g").attr("transform",`translate(0,${y1})`)
    .call(d3.axisBottom(txs).tickValues(traceXTicks).tickFormat(d3.format("d")).tickSize(0).tickPadding(8))
    .call(styleAxis);
  gr.append("g").attr("transform",`translate(${Rx[0]},0)`)
    .call(d3.axisLeft(tys).tickValues(traceYTicks[r]).tickFormat(d3.format(traceYFormats[r])).tickSize(0).tickPadding(6))
    .call(styleAxis);
  tr.forEach((vals, ci) => {
    const step = (nDraws-1)/(vals.length-1);
    const tline = d3.line().x((d,i) => txs(i*step)).y(d => tys(d));
    gr.append("path").attr("d", tline(vals)).attr("fill","none")
      .attr("stroke", chainColors[ci]).attr("stroke-opacity",0.38).attr("stroke-width",1.8)
      .attr("stroke-linejoin","round");
  });

  // ---- titles ----
  [Lx, Rx].forEach(px => {
    const cx = (px[0]+px[1])/2;
    lines.forEach((t, li) => {
      svg.append("text").attr("x",cx).attr("y", y0 - 6 - (lines.length-1-li)*18.4)
        .attr("text-anchor","middle").attr("font-family",FONT).attr("font-size","15.5px")
        .attr("fill",TXT).text(t);
    });
  });
});
</script>
</body></html>
